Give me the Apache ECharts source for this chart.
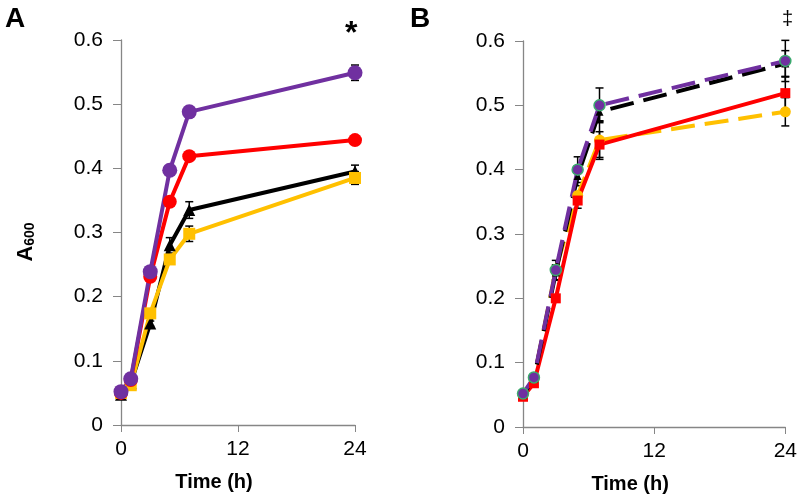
<!DOCTYPE html>
<html>
<head>
<meta charset="utf-8">
<script src="https://cdn.jsdelivr.net/npm/echarts@6/dist/echarts.min.js"></script>
<style>
  html, body { margin: 0; padding: 0; background: #fff; }
  #main { width: 800px; height: 499px; }
</style>
</head>
<body>
<div id="main"></div>
<script>
const hours = [0, 1, 3, 5, 7, 24]
const xTicks = [0, 12, 24]
const yTicks = [0, 0.1, 0.2, 0.3, 0.4, 0.5, 0.6]

// panel A
const aBlack = [0.047, 0.065, 0.158, 0.28, 0.335, 0.395]
const aBlackErr = [0.006, 0.004, 0.004, 0.012, 0.013, 0.01]
const aYellow = [0.05, 0.062, 0.174, 0.258, 0.298, 0.385]
const aYellowErr = [0, 0, 0.004, 0.006, 0.012, 0.01]
const aRed = [0.05, 0.07, 0.231, 0.348, 0.419, 0.444]
const aRedErr = [0, 0, 0, 0, 0, 0]
const aPurple = [0.052, 0.072, 0.239, 0.397, 0.488, 0.549]
const aPurpleErr = [0, 0, 0, 0, 0, 0.012]

// panel B
const bYellow = [0.05, 0.075, 0.245, 0.36, 0.446, 0.49]
const bYellowErr = [0, 0, 0, 0, 0.03, 0.022]
const bRed = [0.047, 0.068, 0.2, 0.352, 0.439, 0.519]
const bRedErr = [0, 0, 0, 0.012, 0.02, 0.025]
const bBlack = [0.05, 0.075, 0.24, 0.39, 0.49, 0.565]
const bBlackErr = [0, 0, 0.012, 0.015, 0.015, 0.02]
const bPurple = [0.052, 0.077, 0.244, 0.4, 0.5, 0.569]
const bPurpleErr = [0, 0.004, 0.015, 0.02, 0.027, 0.032]

const purple = '#7030A0'
const red = '#FF0000'
const yellow = '#FFC000'
const black = '#000000'
const axisGray = '#868686'
const font = 'Liberation Sans'

const pts = (ys) => hours.map((h, i) => [h, ys[i]])
const errPts = (ys, es) => hours.map((h, i) => [h, ys[i] - es[i], ys[i] + es[i]]).filter((d, i) => es[i] > 0)

function errorBars(idx, ys, es) {
  return {
    type: 'custom',
    xAxisIndex: idx,
    yAxisIndex: idx,
    silent: true,
    z: 1,
    data: errPts(ys, es),
    renderItem: function (params, api) {
      const lo = api.coord([api.value(0), api.value(1)])
      const hi = api.coord([api.value(0), api.value(2)])
      const w = 4
      const st = { stroke: '#000', lineWidth: 1.5 }
      return {
        type: 'group',
        children: [
          { type: 'line', shape: { x1: lo[0], y1: lo[1], x2: hi[0], y2: hi[1] }, style: st },
          { type: 'line', shape: { x1: lo[0] - w, y1: lo[1], x2: lo[0] + w, y2: lo[1] }, style: st },
          { type: 'line', shape: { x1: hi[0] - w, y1: hi[1], x2: hi[0] + w, y2: hi[1] }, style: st }
        ]
      }
    }
  }
}

function lineSeries(idx, ys, color, symbol, size, dashed, border) {
  return {
    type: 'line',
    xAxisIndex: idx,
    yAxisIndex: idx,
    data: pts(ys),
    symbol: symbol,
    symbolSize: size,
    showSymbol: true,
    z: 2,
    lineStyle: { color: color, width: 4, type: dashed ? [24, 10] : 'solid' },
    itemStyle: { color: color, borderColor: border || color, borderWidth: border ? 1.5 : 0 }
  }
}

function xAxis(idx) {
  return {
    type: 'value', gridIndex: idx, min: 0, max: 24, interval: 12,
    name: 'Time (h)', nameLocation: 'middle', nameGap: 47,
    nameTextStyle: { fontFamily: font, fontSize: 20, fontWeight: 'bold', color: '#000', padding: [0, 48, 0, 0] },
    splitLine: { show: false },
    axisLine: { lineStyle: { color: axisGray, width: 1.3 } },
    axisTick: { length: 7, lineStyle: { color: axisGray } },
    axisLabel: { fontFamily: font, fontSize: 21, color: '#000', margin: 14,
      formatter: v => xTicks.includes(v) ? String(v) : '' }
  }
}

function yAxis(idx) {
  return {
    type: 'value', gridIndex: idx, min: 0, max: 0.6, interval: 0.1,
    splitLine: { show: false },
    axisLine: { show: true, lineStyle: { color: axisGray, width: 1.3 } },
    axisTick: { show: true, length: 8, lineStyle: { color: axisGray } },
    axisLabel: { fontFamily: font, fontSize: 21, color: '#000', margin: 18,
      formatter: v => { const t = yTicks.find(k => Math.abs(k - v) < 1e-6); return t === 0 ? '0' : String(t) } }
  }
}

const option = {
  animation: false,
  backgroundColor: '#fff',
  grid: [
    { left: 121, right: 445, top: 40, bottom: 74 },
    { left: 523, right: 13, top: 41, bottom: 72 }
  ],
  xAxis: [xAxis(0), xAxis(1)],
  yAxis: [yAxis(0), yAxis(1)],
  graphic: [
    { type: 'text', left: 5, top: 5, style: { text: 'A', fontFamily: font, fontSize: 28, fontWeight: 'bold', fill: '#000' } },
    { type: 'text', left: 410, top: 5, style: { text: 'B', fontFamily: font, fontSize: 28, fontWeight: 'bold', fill: '#000' } },
    { type: 'text', left: 345, top: 18, style: { text: '*', fontFamily: font, fontSize: 32, fontWeight: 'bold', fill: '#000' } },
    { type: 'text', left: 782, top: 9, style: { text: '‡', fontFamily: font, fontSize: 20, fill: '#000' } },
    {
      type: 'text', x: 26, y: 242, rotation: Math.PI / 2,
      style: {
        text: '{a|A}{s|600}', align: 'center', verticalAlign: 'middle',
        rich: {
          a: { fontFamily: font, fontSize: 22, fontWeight: 'bold', fill: '#000' },
          s: { fontFamily: font, fontSize: 14, fontWeight: 'bold', fill: '#000', padding: [9, 0, 0, 0] }
        }
      }
    }
  ],
  series: [
    errorBars(0, aBlack, aBlackErr),
    errorBars(0, aYellow, aYellowErr),
    errorBars(0, aRed, aRedErr),
    errorBars(0, aPurple, aPurpleErr),
    lineSeries(0, aBlack, black, 'triangle', 12, false),
    lineSeries(0, aYellow, yellow, 'rect', 12, false),
    lineSeries(0, aRed, red, 'circle', 14, false),
    lineSeries(0, aPurple, purple, 'circle', 15, false),

    errorBars(1, bYellow, bYellowErr),
    errorBars(1, bRed, bRedErr),
    errorBars(1, bBlack, bBlackErr),
    errorBars(1, bPurple, bPurpleErr),
    lineSeries(1, bYellow, yellow, 'circle', 11, true),
    lineSeries(1, bRed, red, 'rect', 10, false),
    lineSeries(1, bBlack, black, 'triangle', 8, true),
    lineSeries(1, bPurple, purple, 'circle', 11, true, '#3BAA6E')
  ]
}

echarts.init(document.getElementById('main')).setOption(option)
</script>
</body>
</html>
